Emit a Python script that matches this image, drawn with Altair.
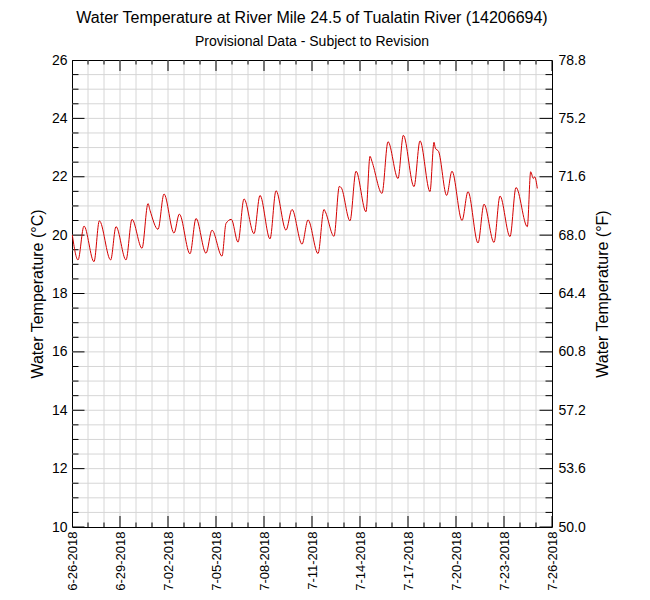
import altair as alt
import pandas as pd

TITLE = "Water Temperature at River Mile 24.5 of Tualatin River (14206694)"
SUBTITLE = "Provisional Data - Subject to Revision"
Y_TITLE_C = "Water Temperature (°C)"
Y_TITLE_F = "Water Temperature (°F)"

# ---- series (time, °C) ----
times = [
    "2018-06-26T00:30", "2018-06-26T09:00", "2018-06-26T18:00",
    "2018-06-27T09:00", "2018-06-27T17:00",
    "2018-06-28T10:00", "2018-06-28T18:00",
    "2018-06-29T09:00", "2018-06-29T18:00",
    "2018-06-30T09:00", "2018-06-30T18:00", "2018-06-30T21:00",
    "2018-07-01T09:00", "2018-07-01T18:00",
    "2018-07-02T09:00", "2018-07-02T17:00",
    "2018-07-03T09:00", "2018-07-03T18:00",
    "2018-07-04T09:00", "2018-07-04T18:00",
    "2018-07-05T09:00", "2018-07-05T15:00", "2018-07-05T23:00",
    "2018-07-06T09:00", "2018-07-06T18:00",
    "2018-07-07T09:00", "2018-07-07T18:00",
    "2018-07-08T09:00", "2018-07-08T18:00",
    "2018-07-09T09:00", "2018-07-09T18:00",
    "2018-07-10T09:00", "2018-07-10T18:00",
    "2018-07-11T09:00", "2018-07-11T18:00", "2018-07-11T20:00",
    "2018-07-12T09:00", "2018-07-12T17:00", "2018-07-12T20:00",
    "2018-07-13T09:00", "2018-07-13T18:00",
    "2018-07-14T09:00", "2018-07-14T15:00", "2018-07-14T18:00",
    "2018-07-15T09:00", "2018-07-15T18:00",
    "2018-07-16T09:00", "2018-07-16T17:00",
    "2018-07-17T09:00", "2018-07-17T18:00",
    "2018-07-18T09:00", "2018-07-18T15:00", "2018-07-18T17:00", "2018-07-18T22:00",
    "2018-07-19T10:00", "2018-07-19T18:00",
    "2018-07-20T09:00", "2018-07-20T18:00",
    "2018-07-21T09:00", "2018-07-21T18:00",
    "2018-07-22T09:00", "2018-07-22T18:00",
    "2018-07-23T09:00", "2018-07-23T18:00",
    "2018-07-24T11:00", "2018-07-24T16:00", "2018-07-24T20:00", "2018-07-24T22:00",
    "2018-07-25T02:00",
]
temps_c = [
    20.00, 19.15, 20.31,
    19.09, 20.49,
    19.15, 20.29,
    19.15, 20.54,
    19.55, 21.08, 20.85,
    20.20, 21.41,
    20.07, 20.72,
    19.36, 20.57,
    19.38, 20.17,
    19.28, 20.40, 20.54,
    19.76, 21.24,
    20.05, 21.36,
    19.87, 21.52,
    20.17, 20.88,
    19.69, 20.52,
    19.37, 20.88, 20.80,
    19.96, 21.67, 21.62,
    20.49, 22.19,
    20.80, 22.70, 22.52,
    21.43, 23.20,
    21.94, 23.42,
    21.66, 23.23,
    21.49, 23.18, 22.98, 22.86,
    21.36, 22.19,
    20.50, 21.49,
    19.73, 21.06,
    19.75, 21.34,
    19.95, 21.63,
    20.29, 22.17, 21.94, 22.00,
    21.60,
]

# ---- axis values / tick labels ----
c_labels = [10, 12, 14, 16, 18, 20, 22, 24, 26]
f_labels = [50.0, 53.6, 57.2, 60.8, 64.4, 68.0, 71.6, 75.2, 78.8]
c_halves = [10 + 0.5 * i for i in range(33)]
c_minor = [v for v in c_halves if v not in c_labels]
c_grid = c_halves[1:-1]

days = list(pd.date_range("2018-06-26", "2018-07-26", freq="D"))
label_days = days[::3]
minor_days = [d for d in days if d not in label_days]
grid_days = days[1:-1]
start_day, end_day = days[0], days[-1]


def iso(d):
    return d.strftime("%Y-%m-%dT%H:%M")


def dt(d):
    return alt.DateTime(year=d.year, month=d.month, date=d.day)


line_df = pd.DataFrame({"time": times, "temp": temps_c})

xt_major = pd.DataFrame([{"time": iso(d), "temp": e} for d in label_days for e in (10, 26)])
xt_minor = pd.DataFrame([{"time": iso(d), "temp": e} for d in minor_days for e in (10, 26)])
yt_major = pd.DataFrame([{"time": iso(d), "temp": v} for v in c_labels for d in (start_day, end_day)])
yt_minor = pd.DataFrame([{"time": iso(d), "temp": v} for v in c_minor for d in (start_day, end_day)])
xg = pd.DataFrame({"time": [iso(d) for d in grid_days]})
yg = pd.DataFrame({"temp": c_grid})

FONT = "Liberation Sans"
GRID = "#d6d6d6"


def X():
    return alt.X(
        "time:T",
        title=None,
        scale=alt.Scale(domain=[dt(start_day), dt(end_day)], nice=False),
        axis=alt.Axis(
            values=[dt(d) for d in label_days],
            format="%-m-%d-%Y",
            labelAngle=-90,
            grid=False, ticks=False, domain=False,
            labelFlush=False, labelOverlap=False,
            labelPadding=4, labelFontSize=13,
        ),
    )


def Y():
    return alt.Y(
        "temp:Q",
        title=Y_TITLE_C,
        scale=alt.Scale(domain=[10, 26], nice=False, zero=False),
        axis=alt.Axis(
            values=c_labels,
            grid=False, ticks=False, domain=False,
            labelOverlap=False, labelPadding=5, labelFontSize=14,
            titleFontSize=16, titlePadding=6,
        ),
    )


grid_x = alt.Chart(xg).mark_rule(color=GRID, strokeWidth=1).encode(x=X())
grid_y = alt.Chart(yg).mark_rule(color=GRID, strokeWidth=1).encode(y=Y())

tick_kw = dict(color="black", thickness=1, opacity=1, clip=True)
t_xmaj = alt.Chart(xt_major).mark_tick(orient="vertical", size=22, **tick_kw).encode(x=X(), y=Y())
t_xmin = alt.Chart(xt_minor).mark_tick(orient="vertical", size=9, **tick_kw).encode(x=X(), y=Y())
t_ymaj = alt.Chart(yt_major).mark_tick(orient="horizontal", size=25, **tick_kw).encode(x=X(), y=Y())
t_ymin = alt.Chart(yt_minor).mark_tick(orient="horizontal", size=13, **tick_kw).encode(x=X(), y=Y())

line = alt.Chart(line_df).mark_line(
    color="#d40000", strokeWidth=1, interpolate="monotone"
).encode(x=X(), y=Y())

c_layer = alt.layer(grid_x, grid_y, t_xmin, t_xmaj, t_ymin, t_ymaj, line)

f_layer = alt.Chart(line_df).transform_calculate(
    tf="datum.temp * 9 / 5 + 32"
).mark_line(opacity=0).encode(
    x=X(),
    y=alt.Y(
        "tf:Q",
        title=Y_TITLE_F,
        scale=alt.Scale(domain=[50, 78.8], nice=False, zero=False),
        axis=alt.Axis(
            orient="right",
            values=f_labels, format=".1f",
            grid=False, ticks=False, domain=False,
            labelOverlap=False, labelPadding=6, labelFontSize=14,
            titleFontSize=16, titlePadding=9, titleAngle=270, titleBaseline="top",
        ),
    ),
)

chart = alt.layer(c_layer, f_layer).resolve_scale(y="independent").properties(
    width=480,
    height=467,
    autosize=alt.AutoSizeParams(type="none"),
    padding={"left": 64, "top": 52, "right": 80, "bottom": 63},
    background="white",
    title=alt.TitleParams(
        text=TITLE,
        subtitle=SUBTITLE,
        font=FONT, subtitleFont=FONT,
        fontSize=16, subtitleFontSize=14,
        fontWeight="normal",
        color="black", subtitleColor="black",
        anchor="middle", offset=4, subtitlePadding=9,
    ),
).configure_view(
    stroke="black", strokeWidth=1
).configure_axis(
    labelFont=FONT, titleFont=FONT, labelColor="black", titleColor="black",
    titleFontWeight="normal",
)

chart.save("out.html", embed_options={"renderer": "svg", "actions": False})
